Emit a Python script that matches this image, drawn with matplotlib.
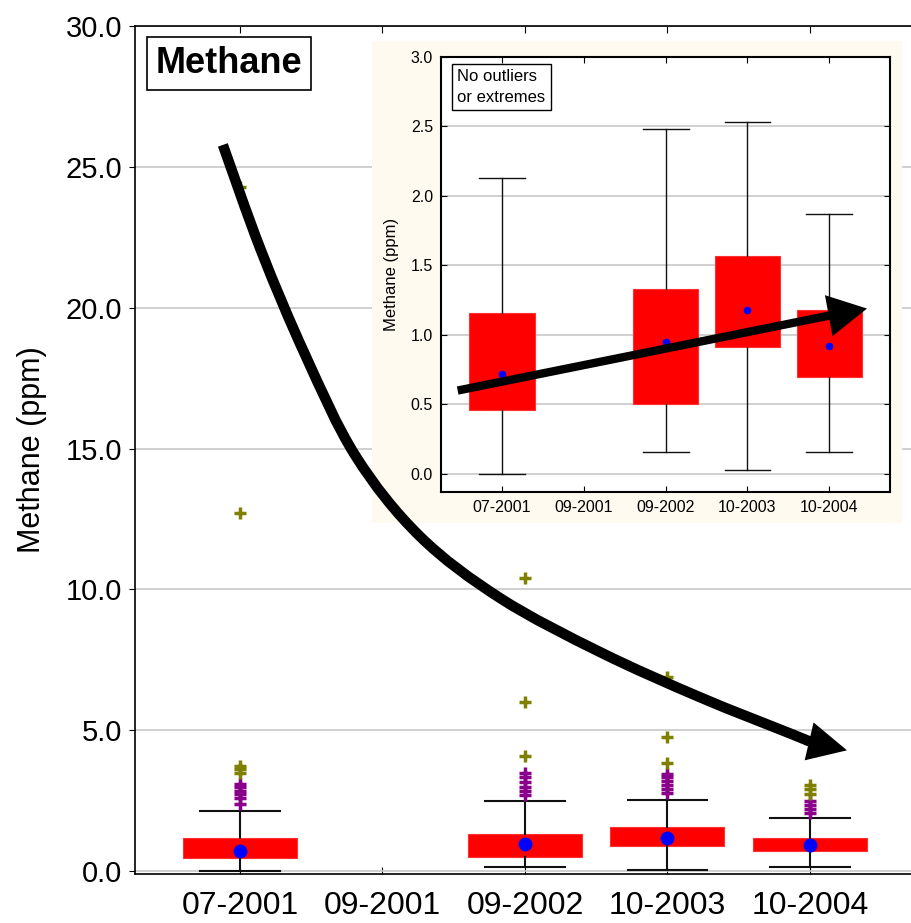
import numpy as np
import matplotlib.pyplot as plt
from matplotlib.patches import FancyArrowPatch, ArrowStyle, PathPatch
from matplotlib.path import Path

plt.rcParams['font.family'] = ['Liberation Sans', 'DejaVu Sans']

# sampling campaigns (09-2001 has no methane readings)
periods = ['07-2001', '09-2001', '09-2002', '10-2003', '10-2004']
sampled = ['07-2001', '09-2002', '10-2003', '10-2004']

# box statistics per campaign, ppm
q1 = [0.46, 0.50, 0.91, 0.70]
q3 = [1.16, 1.33, 1.57, 1.18]
whis_lo = [0.00, 0.16, 0.03, 0.16]
whis_hi = [2.13, 2.48, 2.53, 1.87]
means = [0.72, 0.95, 1.18, 0.92]

# outliers and extremes, ppm
outliers = [
    [3.11, 2.99, 2.85, 2.73, 2.58, 2.40],
    [3.50, 3.35, 3.15, 3.00, 2.85, 2.70],
    [3.45, 3.35, 3.20, 3.05, 2.92, 2.78],
    [2.50, 2.35, 2.20, 2.05],
]
extremes = [
    [24.3, 12.7, 3.72, 3.62, 3.50],
    [10.4, 6.0, 4.1],
    [6.88, 4.77, 3.83],
    [4.55, 3.05, 2.90, 2.75],
]

main_ticks = [0, 5, 10, 15, 20, 25, 30]
inset_ticks = [0, 0.5, 1.0, 1.5, 2.0, 2.5, 3.0]

pos = [periods.index(p) for p in sampled]
stats = [dict(q1=a, q3=b, whislo=lo, whishi=hi, mean=m, med=m, fliers=[])
         for a, b, lo, hi, m in zip(q1, q3, whis_lo, whis_hi, means)]


def draw_boxes(ax, lw, mean_size):
    ax.bxp(stats, positions=pos, widths=0.8, capwidths=0.56,
           patch_artist=True, showmeans=True, showfliers=False,
           manage_ticks=False,
           boxprops=dict(facecolor='red', edgecolor='#ff3030', linewidth=0.8),
           whiskerprops=dict(color='#111111', linewidth=lw),
           capprops=dict(color='#111111', linewidth=lw),
           medianprops=dict(visible=False),
           meanprops=dict(marker='o', markerfacecolor='blue',
                          markeredgecolor='blue', markersize=mean_size))
    ax.set_xlim(-0.74, 4.74)
    ax.set_xticks(range(len(periods)))
    ax.set_xticklabels(periods)
    ax.yaxis.grid(True, color='#c8c8c8', linewidth=1.2)
    ax.set_axisbelow(True)


def smooth_path(pts):
    # Catmull-Rom through the waypoints, as cubic Bezier pieces
    p = np.vstack([pts[0], pts, pts[-1]])
    verts = [p[1]]
    codes = [Path.MOVETO]
    for i in range(1, len(p) - 2):
        c1 = p[i] + (p[i + 1] - p[i - 1]) / 6
        c2 = p[i + 1] - (p[i + 2] - p[i]) / 6
        verts += [c1, c2, p[i + 1]]
        codes += [Path.CURVE4] * 3
    return Path(verts, codes)


def arrow_head(base, tip, transform, hl, hw):
    # solid triangular head only, no stroke
    return FancyArrowPatch(base, tip, transform=transform,
                           arrowstyle=ArrowStyle('-|>', head_length=hl, head_width=hw),
                           mutation_scale=20, lw=0, color='black',
                           shrinkA=0, shrinkB=0, zorder=6)


fig = plt.figure(figsize=(9.12, 9.23), dpi=100)

# main panel
ax = fig.add_axes([0.1475, 0.0531, 0.8562, 0.9187])
draw_boxes(ax, 1.5, 9)
for p, o, e in zip(pos, outliers, extremes):
    ax.plot([p] * len(o), o, '+', color='#8b008b', ms=9, mew=2.5)
    ax.plot([p] * len(e), e, '+', color='#808000', ms=9, mew=2.5)
ax.set_ylim(-0.1, 30)
ax.set_yticks(main_ticks)
ax.set_yticklabels(['%.1f' % t for t in main_ticks])
ax.tick_params(axis='y', direction='out', length=4, labelsize=21, pad=5)
ax.tick_params(axis='x', direction='in', top=True, length=5, labelsize=23, pad=12)
ax.spines['right'].set_visible(False)
for s in ['left', 'bottom', 'top']:
    ax.spines[s].set_linewidth(1.2)
ax.set_ylabel('Methane (ppm)', fontsize=22)
ax.yaxis.set_label_coords(-0.112, 0.5)
ax.text(0.027, 0.977, 'Methane', transform=ax.transAxes, fontsize=26,
        fontweight='bold', ha='left', va='top',
        bbox=dict(boxstyle='square,pad=0.25', fc='white', ec='black', lw=1.2))

# cream backing behind the zoomed panel
panel = fig.add_axes([372 / 912, 1 - 523 / 923, 530 / 912, 482 / 923])
panel.set_facecolor('#fffaf0')
panel.set_xticks([])
panel.set_yticks([])
for s in panel.spines.values():
    s.set_visible(False)

# zoomed panel without outliers
ax_in = fig.add_axes([441.3 / 912, 1 - 492 / 923, 448.6 / 912, 435 / 923])
draw_boxes(ax_in, 1.0, 4.5)
ax_in.set_ylim(-0.13, 3.0)
ax_in.set_yticks(inset_ticks)
ax_in.set_yticklabels(['%.1f' % t for t in inset_ticks])
ax_in.tick_params(direction='in', top=True, right=True, length=4,
                  labelsize=11.5, pad=6)
for s in ax_in.spines.values():
    s.set_linewidth(1.5)
ax_in.set_ylabel('Methane (ppm)', fontsize=12)
ax_in.yaxis.set_label_coords(-0.095, 0.5)
ax_in.text(0.036, 0.972, 'No outliers\nor extremes', transform=ax_in.transAxes,
           fontsize=12, ha='left', va='top', linespacing=1.5,
           bbox=dict(boxstyle='square,pad=0.3', fc='white', ec='black', lw=1))

# rising trend inside the zoomed panel
in_start, in_base, in_tip = (-0.54, 0.60), (4.03, 1.143), (4.46, 1.19)
ax_in.plot([in_start[0], in_base[0]], [in_start[1], in_base[1]], color='black',
           lw=6, solid_capstyle='butt', zorder=5)
ax_in.add_patch(arrow_head(in_base, in_tip, ax_in.transData, 1.4, 0.75))

# falling trend across the main panel
trend = np.array([(-0.12, 25.78), (0.15, 22.0), (0.46, 18.3), (0.81, 14.75),
                  (1.26, 11.9), (1.83, 9.68), (2.53, 7.77), (3.23, 6.17),
                  (3.86, 4.89), (4.0, 4.6)])
trend_tip = (4.26, 4.29)
shaft = PathPatch(smooth_path(trend), fill=False, lw=7.5, edgecolor='black',
                  capstyle='butt', transform=ax.transData, zorder=5)
fig.add_artist(shaft)
fig.add_artist(arrow_head(trend[-1], trend_tip, ax.transData, 1.4, 0.7))

fig.savefig('out.png', dpi=100)
